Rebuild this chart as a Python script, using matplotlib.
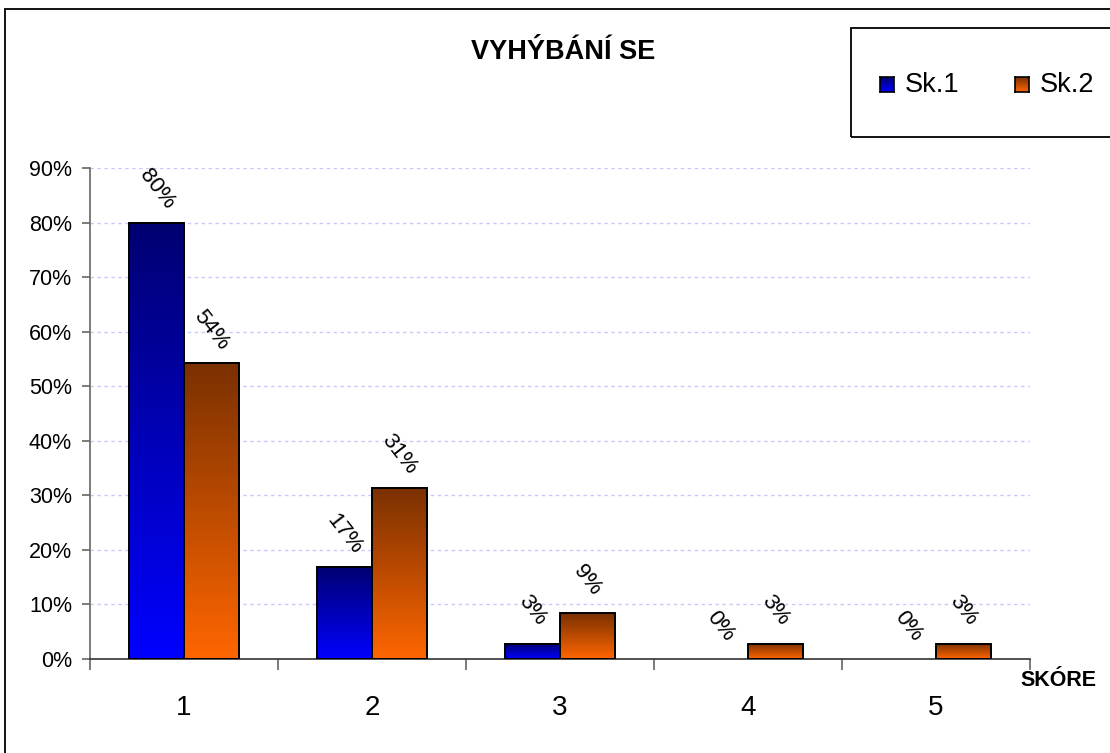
import numpy as np
import matplotlib
matplotlib.use("Agg")
import matplotlib.pyplot as plt
from matplotlib.colors import LinearSegmentedColormap
from matplotlib.patches import Rectangle

categories = ["1", "2", "3", "4", "5"]
series_names = ["Sk.1", "Sk.2"]
sk1 = [80.0, 16.9, 2.8, 0.0, 0.0]
sk2 = [54.3, 31.4, 8.4, 2.8, 2.8]
labels1 = ["80%", "17%", "3%", "0%", "0%"]
labels2 = ["54%", "31%", "9%", "3%", "3%"]
title = "VYHÝBÁNÍ SE"
xlabel = "SKÓRE"
yticks = [0, 10, 20, 30, 40, 50, 60, 70, 80, 90]

plt.rcParams['font.family'] = ['Liberation Sans', 'DejaVu Sans']

cmap1 = LinearSegmentedColormap.from_list("c1", ["#0000ff", "#000070"])
cmap2 = LinearSegmentedColormap.from_list("c2", ["#ff6600", "#7a3000"])

fig = plt.figure(figsize=(11.10, 7.53), dpi=100)
ax = fig.add_axes([90/1110, 1-659/753, 940/1110, (659-168)/753])

n = len(categories)
x = np.arange(n)
w = 0.29
ax.set_xlim(-0.5, n - 0.5)
ax.set_ylim(0, 90)

grad = np.linspace(0, 1, 256).reshape(-1, 1)

def draw_bars(vals, offs, cmap, labels):
    for xi, v, lab in zip(x, vals, labels):
        x0, x1 = xi + offs - w/2, xi + offs + w/2
        if v > 0:
            ax.imshow(grad, cmap=cmap, origin='lower', aspect='auto',
                      extent=[x0, x1, 0, v], zorder=2, interpolation='bilinear')
            ax.add_patch(Rectangle((x0, 0), w, v, fill=False, edgecolor='black',
                                   linewidth=1.4, zorder=3))
        ax.annotate(lab, (xi + offs, v), xytext=(0, 33), textcoords='offset pixels',
                    ha='center', va='center', rotation=-52, fontsize=16, zorder=4)

draw_bars(sk1, -w/2, cmap1, labels1)
draw_bars(sk2, w/2, cmap2, labels2)

ax.set_yticks(yticks)
ax.set_yticklabels([f"{t}%" for t in yticks], fontsize=15.5)
ax.set_xticks(x)
ax.set_xticklabels(categories, fontsize=20)
ax.set_xticks(np.arange(n + 1) - 0.5, minor=True)
ax.tick_params(axis='x', which='major', length=0, pad=26)
ax.tick_params(axis='x', which='minor', length=8, color='#666666', width=1.2)
ax.tick_params(axis='y', length=6, color='#666666', width=1.2, pad=7)

ax.yaxis.grid(True, linestyle=(0, (2.5, 2.5)), color='#c8c8ff', linewidth=1.0, zorder=0)
ax.set_axisbelow(True)
for s in ['top', 'right']:
    ax.spines[s].set_visible(False)
ax.spines['left'].set_color('#666666')
ax.spines['left'].set_linewidth(1.2)
ax.spines['bottom'].set_color('#333333')
ax.spines['bottom'].set_linewidth(1.2)

fig.text(563/1110, 1-52/753, title, ha='center', va='center', fontsize=19.5, fontweight='bold')
fig.text(1058/1110, 1-680/753, xlabel, ha='center', va='center', fontsize=15.5, fontweight='bold')

# outer frame
fig.patches.append(Rectangle((5/1110, -0.1), 1.2, 1.1 - 9/753, transform=fig.transFigure,
                             fill=False, edgecolor='black', linewidth=1.3, zorder=0))
# legend box
fig.patches.append(Rectangle((851/1110, 1-137/753), 0.5, (137-28)/753, transform=fig.transFigure,
                             fill=False, edgecolor='black', linewidth=1.3, zorder=5))

leg_items = [(880, 905, cmap1, series_names[0]), (1015, 1040, cmap2, series_names[1])]
for mx, tx, cm, name in leg_items:
    lax = fig.add_axes([mx/1110, 1-92/753, 14/1110, 15/753])
    lax.imshow(grad, cmap=cm, origin='lower', aspect='auto', extent=[0, 1, 0, 1])
    lax.set_xticks([]); lax.set_yticks([])
    for s in lax.spines.values():
        s.set_color('black'); s.set_linewidth(1.2)
    fig.text(tx/1110, 1-85/753, name, ha='left', va='center', fontsize=19.5)

fig.savefig("out.png", dpi=100)
